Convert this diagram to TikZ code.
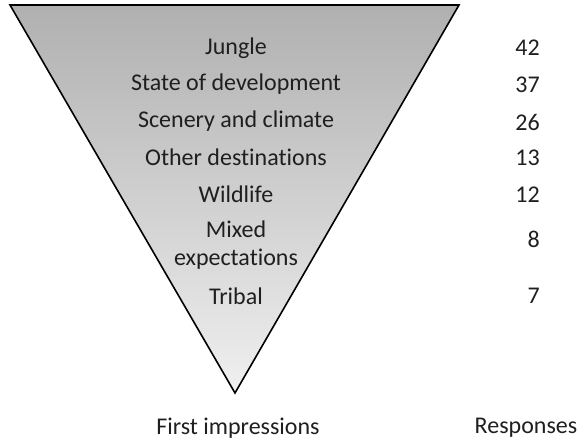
\documentclass[tikz,border=0pt]{standalone}
\usepackage{fontspec}
\setmainfont{Carlito}[Ligatures=NoCommon]
\usepackage{tikz}
\usepackage{xcolor}
\usetikzlibrary{positioning, calc}

\tikzset{
    impr/.style={font=\fontsize{24}{27.5}\selectfont, text=black!88, align=center, inner sep=0pt},
    resp/.style={impr, anchor=east}
}

\begin{document}
\begin{tikzpicture}[x=1pt, y=1pt]
    \useasboundingbox (0,0) rectangle (582,443);
    \coordinate (tl) at (10,438);
    \coordinate (tr) at (459,438);
    \coordinate (tip) at (235,50);
    \shade[top color=gray!62, bottom color=gray!12] (tl) -- (tr) -- (tip) -- cycle;
    \draw[line width=1.6pt, line join=miter] (tl) -- (tr) -- (tip) -- cycle;
    % first impressions
    \node[impr] (jungle) at (236,395) {Jungle};
    \node[impr] (state) at (236,359) {State of development};
    \node[impr] (scenery) at (236,322) {Scenery and climate};
    \node[impr] (other) at (236,286) {Other destinations};
    \node[impr] (wild) at (236,249) {Wildlife};
    \node[impr] (mixed) at (236,198) {Mixed\\expectations};
    \node[impr] (tribal) at (236,147) {Tribal};
    % responses
    \node[resp] (n42) at (540,395) {42};
    \node[resp] (n37) at (540,358) {37};
    \node[resp] (n26) at (540,321) {26};
    \node[resp] (n13) at (540,285) {13};
    \node[resp] (n12) at (540,248) {12};
    \node[resp] (n8) at (540,204) {8};
    \node[resp] (n7) at (540,147) {7};
    \node[impr] (firstlab) at (238,15) {First impressions};
    \node[impr] (resplab) at (526,15) {Responses};
\end{tikzpicture}
\end{document}
